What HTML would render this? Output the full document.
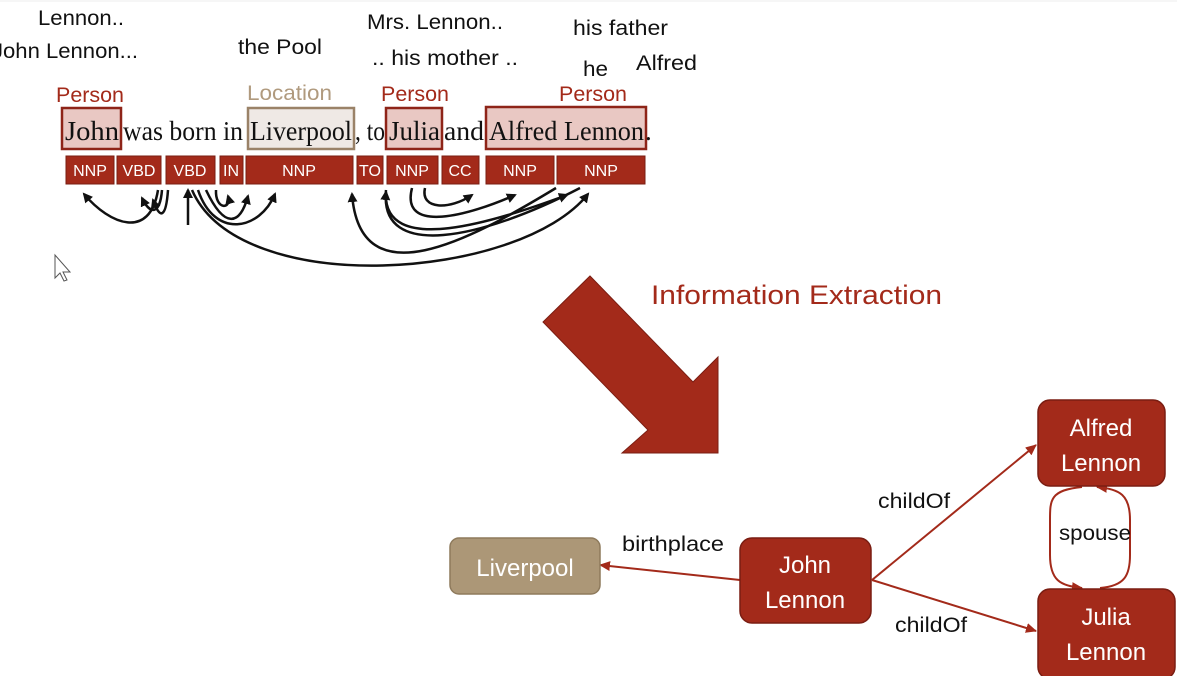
<!DOCTYPE html>
<html><head><meta charset="utf-8"><style>
html,body{margin:0;padding:0;background:#fff;}
svg{display:block;}
.s{font-family:"Liberation Sans",sans-serif;}
.r{font-family:"Liberation Serif",serif;}
</style></head><body>
<svg width="1177" height="676" viewBox="0 0 1177 676" xmlns="http://www.w3.org/2000/svg">
<defs>
<marker id="ab" markerWidth="10" markerHeight="10" refX="8" refY="5" orient="auto" markerUnits="userSpaceOnUse"><path d="M0,0 L10,5 L0,10 z" fill="#111"/></marker>
<marker id="ar" markerWidth="12" markerHeight="12" refX="10" refY="6" orient="auto" markerUnits="userSpaceOnUse"><path d="M0,1 L11,6 L0,11 z" fill="#a32a1a"/></marker>
</defs>
<rect width="1177" height="676" fill="#fff"/>
<line x1="0" y1="1" x2="1177" y2="1" stroke="#eee"/>
<g class="s" font-size="21" fill="#111">
<text x="38" y="25" textLength="86" lengthAdjust="spacingAndGlyphs">Lennon..</text>
<text x="-8" y="58" textLength="146" lengthAdjust="spacingAndGlyphs">John Lennon...</text>
<text x="238" y="54" textLength="84" lengthAdjust="spacingAndGlyphs">the Pool</text>
<text x="367" y="29" textLength="136" lengthAdjust="spacingAndGlyphs">Mrs. Lennon..</text>
<text x="372" y="65" textLength="146" lengthAdjust="spacingAndGlyphs">.. his mother ..</text>
<text x="573" y="35" textLength="95" lengthAdjust="spacingAndGlyphs">his father</text>
<text x="583" y="76" textLength="25" lengthAdjust="spacingAndGlyphs">he</text>
<text x="636" y="70" textLength="61" lengthAdjust="spacingAndGlyphs">Alfred</text>
</g>
<g class="s" font-size="21">
<text x="56" y="102" fill="#a32a1a" textLength="68" lengthAdjust="spacingAndGlyphs">Person</text>
<text x="247" y="100" fill="#b09a7e" textLength="85" lengthAdjust="spacingAndGlyphs">Location</text>
<text x="381" y="101" fill="#a32a1a" textLength="68" lengthAdjust="spacingAndGlyphs">Person</text>
<text x="559" y="101" fill="#a32a1a" textLength="68" lengthAdjust="spacingAndGlyphs">Person</text>
</g>
<rect x="62" y="108" width="59" height="41" fill="#e9c8c3" stroke="#8e2418" stroke-width="2.5"/>
<rect x="248" y="108" width="106" height="41" fill="#efe9e5" stroke="#9a8268" stroke-width="2.5"/>
<rect x="386" y="108" width="56" height="41" fill="#e9c8c3" stroke="#8e2418" stroke-width="2.5"/>
<rect x="486" y="107" width="160" height="42" fill="#e9c8c3" stroke="#8e2418" stroke-width="2.5"/>
<g class="r" font-size="27" fill="#111">
<text x="65" y="140" textLength="54" lengthAdjust="spacingAndGlyphs">John</text>
<text x="123" y="140" textLength="120" lengthAdjust="spacingAndGlyphs">was born in</text>
<text x="250" y="140" textLength="102" lengthAdjust="spacingAndGlyphs">Liverpool</text>
<text x="355" y="140" textLength="30" lengthAdjust="spacingAndGlyphs">, to</text>
<text x="389" y="140" textLength="51" lengthAdjust="spacingAndGlyphs">Julia</text>
<text x="444" y="140" textLength="40" lengthAdjust="spacingAndGlyphs">and</text>
<text x="489" y="140" textLength="155" lengthAdjust="spacingAndGlyphs">Alfred Lennon</text>
<text x="645" y="140">.</text>
</g>
<g fill="#a32a1a" stroke="#7a1d12" stroke-width="1">
<rect x="66" y="156" width="48" height="28"/>
<rect x="117" y="156" width="44" height="28"/>
<rect x="166" y="156" width="49" height="28"/>
<rect x="220" y="156" width="23" height="28"/>
<rect x="246" y="156" width="107" height="28"/>
<rect x="357" y="156" width="26" height="28"/>
<rect x="387" y="156" width="51" height="28"/>
<rect x="442" y="156" width="37" height="28"/>
<rect x="486" y="156" width="68" height="28"/>
<rect x="557" y="156" width="88" height="28"/>
</g>
<g class="s" font-size="16" fill="#fff" text-anchor="middle">
<text x="90" y="176">NNP</text><text x="139" y="176">VBD</text><text x="190" y="176">VBD</text>
<text x="231" y="176">IN</text><text x="299" y="176">NNP</text><text x="370" y="176">TO</text>
<text x="412" y="176">NNP</text><text x="460" y="176">CC</text><text x="520" y="176">NNP</text><text x="601" y="176">NNP</text>
</g>
<g fill="none" stroke="#111" stroke-width="2.5">
<path d="M158,190 C150,240 110,225 84,194" marker-end="url(#ab)"/>
<path d="M162,190 C160,215 150,215 142,198" marker-end="url(#ab)"/>
<path d="M168,190 C166,218 160,220 153,200" marker-end="url(#ab)"/>
<path d="M188,225 L188,190" marker-end="url(#ab)"/>
<path d="M198,190 C215,240 260,230 275,194" marker-end="url(#ab)"/>
<path d="M206,190 C225,230 240,225 248,196" marker-end="url(#ab)"/>
<path d="M216,190 C215,210 232,210 228,196" marker-end="url(#ab)"/>
<path d="M192,190 C240,300 520,280 588,194" marker-end="url(#ab)"/>
<path d="M386,190 C380,260 500,220 567,195" marker-end="url(#ab)"/>
<path d="M556,188 C470,240 360,300 352,194" marker-end="url(#ab)"/>
<path d="M580,188 C480,240 380,260 386,192" marker-end="url(#ab)"/>
<path d="M412,188 C400,235 470,215 515,195" marker-end="url(#ab)"/>
<path d="M425,188 C420,210 450,210 472,195" marker-end="url(#ab)"/>
</g>
<path d="M55,255 L55,278 L60,273 L64,281 L67,280 L63,272 L70,272 Z" fill="#fff" stroke="#555" stroke-width="1"/>
<polygon points="590,276 693,382 718,357 718,453 622,453 648,430 543,322" fill="#a32a1a" stroke="#7a1d12" stroke-width="1"/>
<text class="s" x="651" y="304" font-size="27" fill="#a32a1a" textLength="291" lengthAdjust="spacingAndGlyphs">Information Extraction</text>
<g stroke="#a32a1a" stroke-width="2" fill="none">
<path d="M740,580 L600,565" marker-end="url(#ar)"/>
<path d="M872,580 L1036,445" marker-end="url(#ar)"/>
<path d="M872,580 L1036,631" marker-end="url(#ar)"/>
<path d="M1082,487 C1050,490 1050,500 1050,520 L1050,555 C1050,580 1060,586 1082,588" marker-end="url(#ar)"/>
<path d="M1100,588 C1125,586 1130,575 1130,555 L1130,520 C1130,495 1120,489 1097,487" marker-end="url(#ar)"/>
</g>
<rect x="450" y="538" width="150" height="56" rx="9" fill="#ac9777" stroke="#8e7a5c" stroke-width="1.5"/>
<rect x="740" y="538" width="131" height="85" rx="12" fill="#a32a1a" stroke="#7a1d12" stroke-width="1.5"/>
<rect x="1038" y="400" width="127" height="86" rx="12" fill="#a32a1a" stroke="#7a1d12" stroke-width="1.5"/>
<rect x="1038" y="589" width="137" height="90" rx="12" fill="#a32a1a" stroke="#7a1d12" stroke-width="1.5"/>
<g class="s" font-size="24" fill="#fff" text-anchor="middle">
<text x="525" y="576">Liverpool</text>
<text x="805" y="573">John</text><text x="805" y="608">Lennon</text>
<text x="1101" y="436">Alfred</text><text x="1101" y="471">Lennon</text>
<text x="1106" y="625">Julia</text><text x="1106" y="660">Lennon</text>
</g>
<g class="s" font-size="21" fill="#111">
<text x="622" y="551" textLength="102" lengthAdjust="spacingAndGlyphs">birthplace</text>
<text x="878" y="508" textLength="72" lengthAdjust="spacingAndGlyphs">childOf</text>
<text x="895" y="632" textLength="72" lengthAdjust="spacingAndGlyphs">childOf</text>
<text x="1059" y="540" textLength="72" lengthAdjust="spacingAndGlyphs">spouse</text>
</g>
</svg>
</body></html>
